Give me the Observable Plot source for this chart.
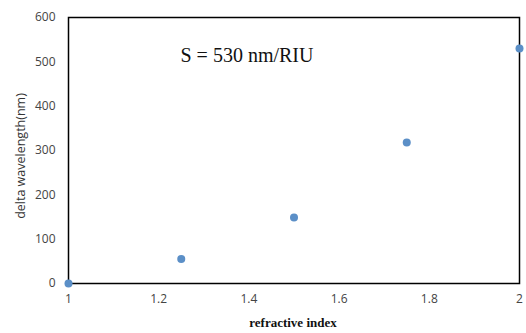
<!DOCTYPE html>
<html>
<head>
<meta charset="utf-8">
<script src="https://cdn.jsdelivr.net/npm/d3@7"></script>
<script src="https://cdn.jsdelivr.net/npm/@observablehq/plot@0.6"></script>
<style>
  html, body { margin: 0; padding: 0; background: #fff; }
  #chart svg { display: block; }
</style>
</head>
<body>
<div id="chart"></div>
<script>
const refractiveIndex = [1, 1.25, 1.5, 1.75, 2];
const deltaWavelength = [0, 55, 149, 318, 530];
const xTicks = [1, 1.2, 1.4, 1.6, 1.8, 2];
const yTicks = [0, 100, 200, 300, 400, 500, 600];
const annotation = ["S = 530 nm/RIU"];

const data = refractiveIndex.map((x, i) => ({x, y: deltaWavelength[i]}));

const chart = Plot.plot({
  width: 526,
  height: 333,
  marginLeft: 68,
  marginRight: 7,
  marginTop: 17,
  marginBottom: 50,
  style: {fontFamily: "Open Sans, sans-serif", fontSize: "12px", color: "#444", background: "#fff"},
  x: {domain: [1, 2], ticks: xTicks, tickFormat: d => String(d), label: null},
  y: {domain: [0, 600], ticks: yTicks, label: null},
  marks: [
    Plot.axisX({ticks: xTicks, tickSize: 0, tickPadding: 11, tickFormat: d => String(d), fill: "#444", fontSize: 12}),
    Plot.axisY({ticks: yTicks, tickSize: 0, tickPadding: 13, fill: "#444", fontSize: 12}),
    Plot.frame({stroke: "#000", strokeWidth: 1.5}),
    Plot.dot(data, {x: "x", y: "y", r: 4, fill: "#5b8fc7", stroke: "none"}),
    Plot.text(annotation, {text: d => d, frameAnchor: "top-left", dx: 112, dy: 30, textAnchor: "start",
      fontFamily: "Liberation Serif, Times New Roman, serif", fontSize: 20, fill: "#111"})
  ]
});

const svg = d3.select(chart);
// y axis title
svg.append("text")
  .attr("transform", "translate(22,156) rotate(-90)")
  .attr("text-anchor", "middle")
  .attr("dominant-baseline", "middle")
  .attr("font-family", "Open Sans, sans-serif")
  .attr("font-size", 12.5)
  .attr("fill", "#333")
  .text("delta wavelength(nm)");
// x axis title
svg.append("text")
  .attr("x", 293)
  .attr("y", 327)
  .attr("text-anchor", "middle")
  .attr("font-family", "Liberation Serif, Times New Roman, serif")
  .attr("font-size", 13)
  .attr("font-weight", "bold")
  .attr("fill", "#111")
  .text("refractive index");

document.getElementById("chart").append(chart);
</script>
</body>
</html>
